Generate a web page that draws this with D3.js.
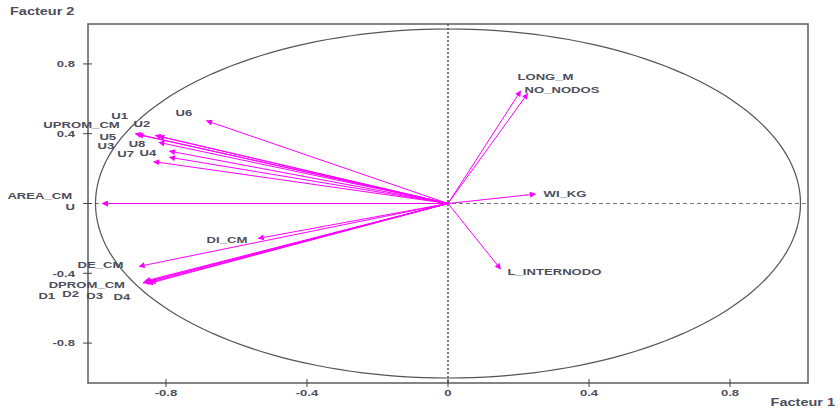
<!DOCTYPE html>
<html><head><meta charset="utf-8">
<script src="https://cdn.jsdelivr.net/npm/d3@7"></script>
<style>
html,body{margin:0;padding:0;background:#fff;}
svg text{font-family:"Liberation Sans",Arial,sans-serif;font-weight:bold;fill:#4d4d5c;}
</style></head>
<body><svg id="c" width="840" height="408"></svg>
<script>
// Variables (correlation circle, factor 1 vs factor 2)
const variables = ["U1","UPROM_CM","U2","U5","U8","U3","U4","U7","U6","AREA_CM","U","DI_CM","DE_CM","DPROM_CM","D1","D2","D3","D4","LONG_M","NO_NODOS","WI_KG","L_INTERNODO"];
const factor1 = [-0.887,-0.83,-0.82,-0.88,-0.82,-0.835,-0.79,-0.79,-0.685,-0.98,-0.98,-0.538,-0.876,-0.86,-0.865,-0.858,-0.852,-0.845,0.206,0.226,0.248,0.149];
const factor2 = [0.40,0.39,0.385,0.395,0.35,0.24,0.30,0.265,0.474,0.0,0.0,-0.20,-0.36,-0.445,-0.455,-0.45,-0.46,-0.452,0.645,0.630,0.054,-0.375];
// label anchor points (data units)
const labelF1 = [-0.955,-1.148,-0.892,-0.989,-0.906,-0.994,-0.875,-0.938,-0.773,-1.250,-1.085,-0.685,-1.051,-1.133,-1.162,-1.094,-1.026,-0.949,0.197,0.217,0.271,0.169];
const labelF2 = [0.501,0.450,0.456,0.381,0.341,0.330,0.289,0.284,0.519,0.046,-0.018,-0.209,-0.352,-0.467,-0.530,-0.519,-0.530,-0.536,0.725,0.650,0.054,-0.393];
const xTicks = [-0.8,-0.4,0,0.4,0.8];
const yTicks = [-0.8,-0.4,0.4,0.8];
const xTitle = "Facteur 1", yTitle = "Facteur 2";

const svg = d3.select("#c");
const L=88,R=808,T=24,B=383;
const x = d3.scaleLinear().domain([-1.0213,1.0213]).range([L,R]);
const y = d3.scaleLinear().domain([-1.0287,1.0287]).range([B,T]);
const SX = 1.38;
function stretchText(g, px, py, txt, size, anchor){
  return g.append("text").attr("transform",`translate(${px},${py}) scale(${SX},1)`)
    .attr("font-size",size).attr("text-anchor",anchor||"start").attr("dominant-baseline","central").text(txt);
}

// zero lines
svg.append("line").attr("x1",x(0)).attr("x2",x(0)).attr("y1",T).attr("y2",B)
  .attr("stroke","#444").attr("stroke-width",1.4).attr("stroke-dasharray","2,2");
svg.append("line").attr("x1",L).attr("x2",R).attr("y1",y(0)).attr("y2",y(0))
  .attr("stroke","#777").attr("stroke-width",1).attr("stroke-dasharray","4,3");

// unit circle
const circ = d3.range(0,361,2).map(a=>[Math.cos(a*Math.PI/180),Math.sin(a*Math.PI/180)]);
svg.append("path").attr("d",d3.line().x(d=>x(d[0])).y(d=>y(d[1])).curve(d3.curveLinearClosed)(circ))
  .attr("fill","none").attr("stroke","#555").attr("stroke-width",1.2);

// frame
svg.append("rect").attr("x",L).attr("y",T).attr("width",R-L).attr("height",B-T)
  .attr("fill","none").attr("stroke","#666").attr("stroke-width",1.6);

// ticks (cross style)
const ax = svg.append("g");
xTicks.forEach(t=>{
  ax.append("line").attr("x1",x(t)).attr("x2",x(t)).attr("y1",B-4).attr("y2",B+4).attr("stroke","#444");
  stretchText(ax,x(t),393,t===0?"0":String(t),9.5,"middle");
});
yTicks.concat([0]).forEach(t=>{
  ax.append("line").attr("x1",L-5).attr("x2",L+4).attr("y1",y(t)).attr("y2",y(t)).attr("stroke","#444");
});
yTicks.forEach(t=>{
  ax.append("text").attr("transform",`translate(${L-13},${y(t)}) scale(${SX},1)`)
    .attr("font-size",9.5).attr("text-anchor","end").attr("dominant-baseline","central").text(t);
});
stretchText(svg,10,12,yTitle,10.5,"start");
stretchText(svg,835,403,xTitle,10.5,"end");

// arrows
svg.append("defs").append("marker").attr("id","ah").attr("viewBox","0 0 10 10")
  .attr("refX",9).attr("refY",5).attr("markerWidth",8).attr("markerHeight",6)
  .attr("markerUnits","userSpaceOnUse").attr("orient","auto")
  .append("path").attr("d","M0,0L10,5L0,10Z").attr("fill","#ff00ff");
const ag = svg.append("g");
variables.forEach((v,i)=>{
  ag.append("line").attr("x1",x(0)).attr("y1",y(0)).attr("x2",x(factor1[i])).attr("y2",y(factor2[i]))
    .attr("stroke","#ff00ff").attr("stroke-width",1).attr("marker-end","url(#ah)");
});
const lg = svg.append("g");
variables.forEach((v,i)=>{
  stretchText(lg,x(labelF1[i]),y(labelF2[i]),v,9.5,"start");
});
</script></body></html>
